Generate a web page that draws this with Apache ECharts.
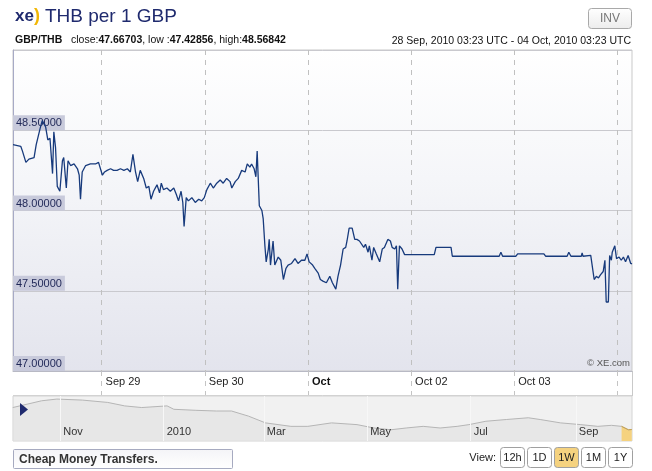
<!DOCTYPE html>
<html>
<head>
<meta charset="utf-8">
<title>THB per 1 GBP</title>
<script src="https://cdn.jsdelivr.net/npm/echarts@6/dist/echarts.min.js"></script>
<style>
    html, body { margin: 0; padding: 0; background: #fff; }
    #chart { width: 652px; height: 471px; }
</style>
</head>
<body>
<div id="chart"></div>
<script>
// start of the 1W window: 28 Sep 2010 03:23 UTC
var startTime = Date.UTC(2010, 8, 28, 3, 23);
var windowHours = 144;

// hours after startTime, and GBP/THB read at those moments
var hoursFromStart = [0, 1.8, 2.2, 3.0, 3.7, 4.9, 5.4, 5.8, 6.3, 6.8,
    7.6, 8.1, 8.6, 9.2, 9.5, 9.9, 10.3, 10.9, 11.5, 11.8,
    12.4, 12.8, 13.4, 14.2, 15.0, 15.4, 15.7, 16.1, 16.9, 18.0,
    19.2, 19.9, 20.8, 21.3, 21.9, 22.7, 23.4, 24.2, 25.0, 25.8,
    26.6, 27.3, 27.9, 28.5, 29.0, 29.6, 30.4, 31.0, 31.6, 32.1,
    32.7, 33.5, 34.1, 34.5, 35.0, 35.8, 36.6, 37.4, 38.0, 38.5,
    39.1, 39.5, 39.8, 40.3, 40.8, 41.6, 42.4, 43.2, 43.9, 44.5,
    45.1, 45.9, 46.6, 47.4, 48.2, 48.9, 49.7, 50.5, 50.9, 51.7,
    52.4, 53.2, 54.0, 54.5, 55.1, 55.5, 56.1, 56.5, 56.8, 57.3,
    57.9, 58.2, 58.6, 58.9, 59.4, 59.6, 59.9, 60.5, 60.9, 61.7,
    62.3, 62.9, 63.5, 64.0, 64.8, 65.6, 66.3, 67.1, 67.9, 68.4,
    68.9, 69.7, 70.2, 71.0, 71.5, 72.1, 72.9, 73.7, 74.3, 75.1,
    75.6, 76.2, 76.8, 77.4, 77.7, 78.2, 78.9, 79.5, 80.0, 80.6,
    81.6, 82.0, 82.6, 82.9, 83.5, 83.9, 84.5, 85.3, 85.9, 86.4,
    87.2, 87.8, 88.2, 88.8, 89.2, 89.5, 89.9, 90.5, 91.1, 98.0,
    98.4, 101.9, 102.2, 113.1, 113.5, 113.9, 117.0, 117.4, 123.5, 123.9,
    128.9, 129.3, 129.8, 132.2, 132.4, 132.6, 134.4, 134.6, 135.2, 135.7,
    136.2, 136.7, 137.3, 137.7, 138.0, 138.5, 138.8, 139.2, 139.4, 140.0,
    140.4, 141.0, 141.5, 142.0, 142.5, 143.1, 143.7, 144.0];
var rates = [48.41, 48.40, 48.37, 48.30, 48.32, 48.33, 48.41, 48.41, 48.51, 48.56,
    48.52, 48.44, 48.45, 48.23, 48.49, 48.39, 48.15, 48.12, 48.31, 48.33,
    48.14, 48.31, 48.28, 48.29, 48.26, 48.22, 48.07, 48.24, 48.28, 48.29,
    48.29, 48.30, 48.22, 48.24, 48.25, 48.26, 48.25, 48.25, 48.26, 48.25,
    48.26, 48.24, 48.35, 48.24, 48.18, 48.25, 48.20, 48.14, 48.15, 48.07,
    48.12, 48.16, 48.11, 48.17, 48.13, 48.14, 48.12, 48.14, 48.10, 48.06,
    48.12, 48.05, 47.90, 48.08, 48.06, 48.08, 48.05, 48.07, 48.06, 48.08,
    48.13, 48.17, 48.14, 48.17, 48.19, 48.17, 48.20, 48.18, 48.14, 48.18,
    48.20, 48.25, 48.24, 48.29, 48.27, 48.29, 48.26, 48.21, 48.37, 48.03,
    48.00, 47.95, 47.78, 47.68, 47.76, 47.82, 47.66, 47.81, 47.66, 47.71,
    47.69, 47.57, 47.64, 47.66, 47.67, 47.70, 47.67, 47.69, 47.69, 47.73,
    47.68, 47.66, 47.64, 47.61, 47.57, 47.56, 47.55, 47.59, 47.55, 47.51,
    47.59, 47.66, 47.76, 47.77, 47.81, 47.89, 47.89, 47.82, 47.82, 47.81,
    47.77, 47.79, 47.74, 47.78, 47.69, 47.77, 47.73, 47.68, 47.76, 47.77,
    47.82, 47.81, 47.77, 47.76, 47.78, 47.51, 47.78, 47.76, 47.725, 47.725,
    47.77, 47.77, 47.715, 47.715, 47.74, 47.715, 47.715, 47.73, 47.73, 47.715,
    47.715, 47.74, 47.715, 47.715, 47.735, 47.715, 47.72, 47.73, 47.57, 47.59,
    47.58, 47.60, 47.62, 47.69, 47.43, 47.43, 47.72, 47.69, 47.74, 47.78,
    47.70, 47.71, 47.69, 47.71, 47.68, 47.72, 47.67, 47.667];

// y axis
var rateMin = 47, rateMax = 49, rateStep = 0.5;

// day boundaries (dashed lines) and their labels, the last one has no label
var dayTickDates = ['2010-09-29', '2010-09-30', '2010-10-01', '2010-10-02', '2010-10-03', '2010-10-04'];
var dayLabels = ['Sep 29', 'Sep 30', 'Oct', 'Oct 02', 'Oct 03'];

// one year overview under the chart
var navStart = Date.UTC(2009, 9, 4, 3, 23);
var navDates = ['2009-10-04', '2009-10-21', '2009-10-30', '2009-11-14', '2009-11-29', '2009-12-09',
    '2009-12-19', '2010-01-03', '2010-01-07', '2010-01-20', '2010-02-01', '2010-02-10',
    '2010-02-20', '2010-03-02', '2010-03-17', '2010-03-27', '2010-04-10', '2010-04-25',
    '2010-05-05', '2010-05-15', '2010-05-24', '2010-06-03', '2010-06-13', '2010-06-23',
    '2010-06-30', '2010-07-10', '2010-07-22', '2010-08-04', '2010-08-11', '2010-08-23',
    '2010-09-04', '2010-09-14', '2010-09-22', '2010-09-28', '2010-09-29', '2010-10-02', '2010-10-04'];
var navRates = [52.68, 54.33, 54.75, 54.50, 53.93, 53.08,
    52.68, 53.08, 52.25, 52.00, 51.83, 51.83,
    50.58, 48.93, 48.08, 48.08, 48.93, 48.50,
    47.68, 47.25, 47.68, 48.08, 47.68, 48.08,
    48.50, 49.33, 49.75, 50.18, 49.75, 48.93,
    48.50, 48.08, 48.33, 48.08, 47.68, 47.25, 47.30];
var navTickDates = ['2009-11-01', '2010-01-01', '2010-03-01', '2010-05-01', '2010-07-01', '2010-09-01'];
var navLabels = ['Nov', '2010', 'Mar', 'May', 'Jul', 'Sep'];

var viewButtons = ['12h', '1D', '1W', '1M', '1Y'];
var activeButton = '1W';

var font = 'Liberation Sans, Arial, Helvetica, sans-serif';
var navy = '#1f2a6e';

function toTime(s) {
    return Date.parse(s + 'T00:00:00Z');
}

var endTime = startTime + windowHours * 3600000;
var lineData = hoursFromStart.map(function (h, i) {
    return [startTime + h * 3600000, rates[i]];
});
var dayTicks = dayTickDates.map(toTime);
var labelTicks = dayTicks.slice(0, dayLabels.length);
var navData = navDates.map(function (d, i) {
    return [toTime(d), navRates[i]];
});
// the part of the overview covered by the week shown above
var navSelected = navData.filter(function (p) {
    return p[0] >= endTime - 7 * 86400000;
});
var navTicks = navTickDates.map(toTime);

// buttons and other page chrome
var graphics = [
    // INV button
    { type: 'rect', shape: { x: 588.5, y: 8.5, width: 43, height: 20, r: 3 },
      style: { fill: { type: 'linear', x: 0, y: 0, x2: 0, y2: 1,
          colorStops: [{ offset: 0, color: '#ffffff' }, { offset: 1, color: '#ececec' }] },
          stroke: '#a9a9a9', lineWidth: 1 } },
    { type: 'text', x: 610, y: 18.5,
      style: { text: 'INV', fill: '#777', font: '12px ' + font, align: 'center', verticalAlign: 'middle' } },
    // date range, right side of 2nd line
    { type: 'text', x: 631, y: 41,
      style: { text: '28 Sep, 2010 03:23 UTC - 04 Oct, 2010 03:23 UTC', fill: '#111',
          font: '10.5px ' + font, align: 'right', verticalAlign: 'middle' } },
    { type: 'text', x: 630, y: 363, z: 10,
      style: { text: '\u00a9 XE.com', fill: '#555', font: '9.5px ' + font, align: 'right', verticalAlign: 'middle' } },
    // label band borders
    { type: 'line', shape: { x1: 13, y1: 395.5, x2: 632, y2: 395.5 }, style: { stroke: '#d2d2d2', lineWidth: 1 } },
    { type: 'line', shape: { x1: 632.5, y1: 371, x2: 632.5, y2: 396 }, style: { stroke: '#c9c9c9', lineWidth: 1 } },
    // overview handle
    { type: 'polygon', shape: { points: [[20, 403], [28, 409.5], [20, 416]] }, style: { fill: navy }, z: 10 },
    // bottom link box
    { type: 'rect', shape: { x: 13.5, y: 449.5, width: 219, height: 19, r: 1 },
      style: { fill: { type: 'linear', x: 0, y: 0, x2: 0, y2: 1,
          colorStops: [{ offset: 0, color: '#f4f4f7' }, { offset: 1, color: '#ffffff' }] },
          stroke: '#a6aac0', lineWidth: 1 } },
    { type: 'text', x: 19, y: 459.5,
      style: { text: 'Cheap Money Transfers.', fill: '#333', font: 'bold 12px ' + font, verticalAlign: 'middle' } },
    { type: 'text', x: 496, y: 458,
      style: { text: 'View:', fill: '#222', font: '11px ' + font, align: 'right', verticalAlign: 'middle' } }
];
viewButtons.forEach(function (name, i) {
    var x = 500.5 + i * 27;
    graphics.push({ type: 'rect', shape: { x: x, y: 447.5, width: 24, height: 20, r: 3 },
        style: { fill: name === activeButton ? '#f5d27f' : '#fff', stroke: '#a0a0a0', lineWidth: 1 } });
    graphics.push({ type: 'text', x: x + 12, y: 458,
        style: { text: name, fill: '#222', font: '11px ' + font, align: 'center', verticalAlign: 'middle' } });
});

var myChart = echarts.init(document.getElementById('chart'), null, { renderer: 'canvas' });
myChart.setOption({
    animation: false,
    backgroundColor: '#fff',
    textStyle: { fontFamily: font },
    title: [
        {
            left: 15, top: 7, padding: 0,
            text: '{x|xe}{p|)} {t|THB per 1 GBP}',
            textStyle: {
                fontWeight: 'normal',
                rich: {
                    x: { fontSize: 17, fontWeight: 'bold', color: navy, fontFamily: font },
                    p: { fontSize: 18, fontWeight: 'bold', color: '#f2b705', fontFamily: font },
                    t: { fontSize: 19, fontWeight: 'normal', color: navy, fontFamily: font }
                }
            }
        },
        {
            left: 15, top: 35, padding: 0,
            text: '{b|GBP/THB}   close:{b|47.66703}, low :{b|47.42856}, high:{b|48.56842}',
            textStyle: {
                fontSize: 10.5, fontWeight: 'normal', color: '#111', fontFamily: font,
                rich: { b: { fontSize: 10.5, fontWeight: 'bold', color: '#111', fontFamily: font } }
            }
        }
    ],
    grid: [
        {
            left: 13, right: 20, top: 50, bottom: 100,
            show: true,
            borderColor: '#c9c9c9', borderWidth: 1,
            backgroundColor: { type: 'linear', x: 0, y: 0, x2: 0, y2: 1,
                colorStops: [{ offset: 0, color: '#ffffff' }, { offset: 0.4, color: '#f5f6f9' }, { offset: 1, color: '#e3e4ed' }] }
        },
        {
            left: 13, right: 20, top: 396, height: 45,
            show: true,
            borderColor: '#d4d4d4', borderWidth: 1,
            backgroundColor: '#f1f1f1'
        }
    ],
    xAxis: [
        {
            // timestamps on a plain value axis so the ticks can sit on the day boundaries
            type: 'value', gridIndex: 0,
            min: startTime, max: endTime,
            axisLine: { show: true, lineStyle: { color: '#b8b9c4' } },
            axisTick: {
                show: true, customValues: dayTicks, length: 24, inside: false,
                lineStyle: { color: '#c4c4c4', type: [5, 5] }
            },
            splitLine: { show: true, lineStyle: { color: '#c0c0c0', type: [5, 5] } },
            axisLabel: {
                customValues: labelTicks,
                align: 'left', margin: 5, padding: [0, 0, 0, 4],
                fontSize: 11, color: '#222', fontFamily: font,
                formatter: function (val) {
                    var i = labelTicks.indexOf(val);
                    if (i < 0) return '';
                    return dayLabels[i] === 'Oct' ? '{b|Oct}' : dayLabels[i];
                },
                rich: { b: { fontWeight: 'bold', fontSize: 11, color: '#111', fontFamily: font } }
            }
        },
        {
            type: 'value', gridIndex: 1, z: 4,
            min: navStart, max: endTime,
            axisLine: { show: false },
            axisTick: { show: false, customValues: navTicks },
            splitLine: { show: true, lineStyle: { color: '#f7f7f7', width: 1 } },
            axisLabel: {
                customValues: navTicks, inside: true,
                align: 'left', margin: 4, padding: [0, 0, 0, 3],
                fontSize: 11, color: '#333', fontFamily: font,
                formatter: function (val) {
                    var i = navTicks.indexOf(val);
                    return i < 0 ? '' : navLabels[i];
                }
            }
        }
    ],
    yAxis: [
        {
            type: 'value', gridIndex: 0,
            min: rateMin, max: rateMax, interval: rateStep,
            axisLine: { show: true, lineStyle: { color: '#a7aac6' } },
            axisTick: { show: false },
            splitLine: { show: true, lineStyle: { color: '#c9c9ce' } },
            axisLabel: {
                inside: true, margin: 0, showMaxLabel: false,
                verticalAlign: 'bottom', align: 'left',
                backgroundColor: '#c8cadb', padding: [2, 3, 1, 3],
                fontSize: 11, color: '#1e2656', fontFamily: font, lineHeight: 12,
                formatter: function (v) { return v.toFixed(5); }
            }
        },
        {
            type: 'value', gridIndex: 1,
            min: 44.5, max: 55.5,
            show: false,
            splitLine: { show: false }
        }
    ],
    graphic: graphics,
    series: [
        {
            name: 'GBP/THB',
            type: 'line',
            xAxisIndex: 0, yAxisIndex: 0,
            showSymbol: false,
            data: lineData,
            lineStyle: { color: '#173a7c', width: 1.3 },
            z: 5
        },
        {
            name: 'overview',
            type: 'line',
            xAxisIndex: 1, yAxisIndex: 1,
            showSymbol: false,
            data: navData,
            lineStyle: { color: '#b5b5b5', width: 1 },
            areaStyle: { color: '#e2e2e2', origin: 'start' }
        },
        {
            name: 'selected',
            type: 'line',
            xAxisIndex: 1, yAxisIndex: 1,
            showSymbol: false,
            data: navSelected,
            lineStyle: { color: '#c9a24a', width: 1 },
            areaStyle: { color: '#f5d27f', opacity: 1, origin: 'start' }
        }
    ]
});
</script>
</body>
</html>
